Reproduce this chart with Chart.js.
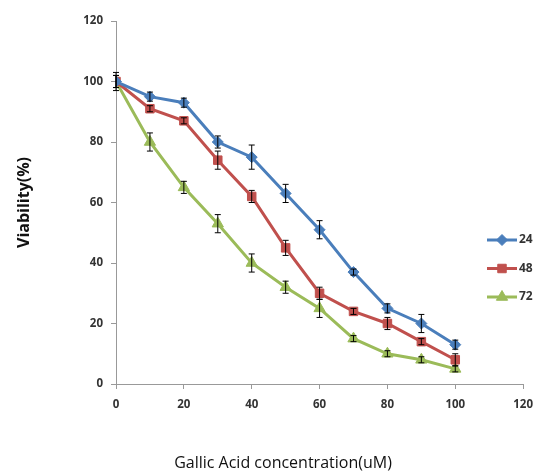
<!DOCTYPE html>
<html>
<head>
<meta charset="utf-8">
<script src="https://cdn.jsdelivr.net/npm/chart.js@4"></script>
<style>
  html, body { margin: 0; padding: 0; background: #fff; }
  #wrap { width: 542px; height: 476px; }
</style>
</head>
<body>
<div id="wrap"><canvas id="viabilityChart"></canvas></div>
<script>
const concentrations = [0, 10, 20, 30, 40, 50, 60, 70, 80, 90, 100];
const seriesNames = ["24", "48", "72"];
const viability24 = [100, 95, 93, 80, 75, 63, 51, 37, 25, 20, 13];
const viability48 = [100, 91, 87, 74, 62, 45, 30, 24, 20, 14, 8];
const viability72 = [100, 80, 65, 53, 40, 32, 25, 15, 10, 8, 5];
const error24 = [3, 1.5, 1.5, 2, 4, 3, 3, 1, 1.5, 3, 1.5];
const error48 = [2, 1, 1, 3, 2, 2.5, 2, 1, 2, 1, 2];
const error72 = [2, 3, 2, 3, 3, 2, 3, 1, 1, 1, 1];

const colors = ["#4A7EBB", "#C0504D", "#9BBB59"];
const markers = ["rectRot", "rect", "triangle"];
const markerSizes = [5.5, 6, 6.5];
const values = [viability24, viability48, viability72];
const errors = [error24, error48, error72];

const datasets = seriesNames.map((name, i) => ({
    label: name,
    data: concentrations.map((x, j) => ({ x, y: values[i][j] })),
    errors: errors[i],
    borderColor: colors[i],
    backgroundColor: colors[i],
    borderWidth: 3,
    pointStyle: markers[i],
    pointRadius: markerSizes[i],
    pointHoverRadius: markerSizes[i],
    pointBorderWidth: 1,
    tension: 0,
}));

// error bars drawn on top of the points
const errorBars = {
    id: "errorBars",
    afterDatasetsDraw(chart) {
        const { ctx, scales } = chart;
        ctx.save();
        ctx.strokeStyle = "#000";
        ctx.lineWidth = 1;
        chart.data.datasets.forEach((ds) => {
            ds.data.forEach((pt, j) => {
                const e = ds.errors[j];
                const px = scales.x.getPixelForValue(pt.x);
                const top = scales.y.getPixelForValue(pt.y + e);
                const bot = scales.y.getPixelForValue(pt.y - e);
                ctx.beginPath();
                ctx.moveTo(px, top);
                ctx.lineTo(px, bot);
                ctx.moveTo(px - 3, top);
                ctx.lineTo(px + 3, top);
                ctx.moveTo(px - 3, bot);
                ctx.lineTo(px + 3, bot);
                ctx.stroke();
            });
        });
        ctx.restore();
    },
};

// legend with line + marker, and the x title
const sideLegend = {
    id: "sideLegend",
    afterDraw(chart) {
        const { ctx } = chart;
        ctx.save();
        chart.data.datasets.forEach((ds, i) => {
            const y = 240 + i * 28.5;
            ctx.strokeStyle = ds.borderColor;
            ctx.lineWidth = 3;
            ctx.beginPath();
            ctx.moveTo(487, y);
            ctx.lineTo(517, y);
            ctx.stroke();
            ctx.fillStyle = ds.backgroundColor;
            ctx.lineWidth = 1;
            Chart.helpers.drawPoint(ctx, {
                pointStyle: ds.pointStyle,
                radius: ds.pointRadius,
                rotation: 0,
                borderWidth: 1,
            }, 502, y);
            ctx.fillStyle = "#333";
            ctx.font = "bold 12px 'Open Sans', sans-serif";
            ctx.textBaseline = "middle";
            ctx.textAlign = "left";
            ctx.fillText(ds.label, 519, y);
        });
        ctx.fillStyle = "#111";
        ctx.font = "16px 'Open Sans', sans-serif";
        ctx.textAlign = "center";
        ctx.textBaseline = "middle";
        ctx.fillText("Gallic Acid concentration(uM)", 283, 463);
        ctx.restore();
    },
};

const tickFont = { family: "'Open Sans', sans-serif", size: 11.5, weight: "bold" };

new Chart(document.getElementById("viabilityChart"), {
    type: "line",
    data: { datasets },
    options: {
        responsive: true,
        maintainAspectRatio: false,
        animation: false,
        layout: { padding: { top: 21, right: 14, left: 0, bottom: 0 } },
        plugins: {
            legend: { display: false },
            tooltip: { enabled: false },
        },
        scales: {
            x: {
                type: "linear",
                min: 0,
                max: 120,
                ticks: { stepSize: 20, color: "#333", font: tickFont, padding: 9 },
                grid: { display: true, drawOnChartArea: false, drawTicks: true, tickLength: 5, color: "#999" },
                border: { color: "#999", width: 1 },
                afterFit: (scale) => { scale.height = 92; },
            },
            y: {
                min: 0,
                max: 120,
                ticks: { stepSize: 20, color: "#333", font: tickFont, padding: 8 },
                grid: { display: true, drawOnChartArea: false, drawTicks: true, tickLength: 5, color: "#999" },
                border: { color: "#999", width: 1 },
                title: {
                    display: true,
                    text: "Viability(%)",
                    color: "#111",
                    font: { family: "'Open Sans', sans-serif", size: 16, weight: "bold" },
                    padding: { top: 15, bottom: 0 },
                },
                afterFit: (scale) => { scale.width = 116; },
            },
        },
    },
    plugins: [errorBars, sideLegend],
});
</script>
</body>
</html>
